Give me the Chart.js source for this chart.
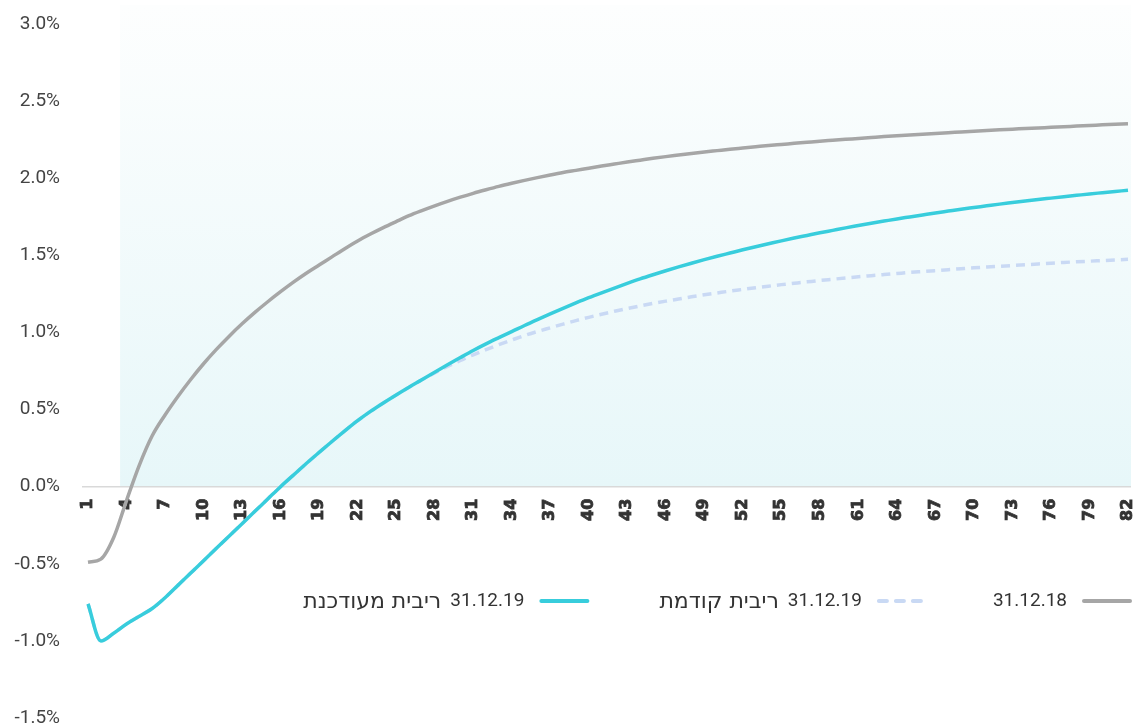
<!DOCTYPE html>
<html lang="he">
<head>
<meta charset="utf-8">
<title>עקום ריבית</title>
<script src="https://cdn.jsdelivr.net/npm/chart.js@4.4.1/dist/chart.umd.min.js"></script>
<style>
  html, body { margin: 0; padding: 0; background: #ffffff; }
  #wrap { width: 1137px; height: 727px; position: relative; }
</style>
</head>
<body>
<div id="wrap"><canvas id="curve"></canvas></div>
<script>
// Period labels along the horizontal axis
const periods = [
  1, 2, 3, 4, 5, 6, 7, 8, 9, 10, 11, 12, 13, 14, 15, 16, 17, 18, 19, 20,
  21, 22, 23, 24, 25, 26, 27, 28, 29, 30, 31, 32, 33, 34, 35, 36, 37, 38, 39, 40,
  41, 42, 43, 44, 45, 46, 47, 48, 49, 50, 51, 52, 53, 54, 55, 56, 57, 58, 59, 60,
  61, 62, 63, 64, 65, 66, 67, 68, 69, 70, 71, 72, 73, 74, 75, 76, 77, 78, 79, 80,
  81, 82
];

// Curve as of 31.12.18 (%)
const curve2018 = [
  -0.49, -0.47, -0.33, -0.09, 0.14, 0.33, 0.465, 0.585, 0.695, 0.797,
  0.890, 0.976, 1.056, 1.130, 1.199, 1.264, 1.326, 1.384, 1.437, 1.490,
  1.543, 1.593, 1.638, 1.680, 1.719, 1.757, 1.790, 1.821, 1.850, 1.877,
  1.902, 1.925, 1.947, 1.967, 1.986, 2.004, 2.021, 2.037, 2.051, 2.065,
  2.079, 2.092, 2.105, 2.117, 2.129, 2.140, 2.150, 2.160, 2.170, 2.179,
  2.188, 2.196, 2.204, 2.212, 2.219, 2.226, 2.233, 2.240, 2.246, 2.252,
  2.258, 2.264, 2.270, 2.275, 2.280, 2.285, 2.290, 2.295, 2.300, 2.305,
  2.310, 2.314, 2.318, 2.322, 2.326, 2.330, 2.334, 2.338, 2.342, 2.346,
  2.350, 2.354
];

// Curve as of 31.12.19, previous rate (%)
const curve2019Prev = [
  -0.76, -1.00, -0.95, -0.89, -0.84, -0.79, -0.72, -0.64, -0.56, -0.48,
  -0.40, -0.32, -0.24, -0.16, -0.08, 0.00, 0.075, 0.150, 0.222, 0.293,
  0.362, 0.428, 0.488, 0.543, 0.595, 0.645, 0.693, 0.738, 0.780, 0.818,
  0.855, 0.889, 0.921, 0.951, 0.980, 1.006, 1.030, 1.054, 1.077, 1.098,
  1.118, 1.137, 1.155, 1.172, 1.188, 1.203, 1.217, 1.231, 1.244, 1.256,
  1.268, 1.279, 1.290, 1.300, 1.310, 1.319, 1.328, 1.337, 1.345, 1.353,
  1.361, 1.368, 1.375, 1.382, 1.389, 1.395, 1.401, 1.407, 1.413, 1.419,
  1.424, 1.429, 1.434, 1.439, 1.444, 1.449, 1.454, 1.458, 1.462, 1.466,
  1.470, 1.474
];

// Curve as of 31.12.19, updated rate (%)
const curve2019New = [
  -0.76, -1.00, -0.95, -0.89, -0.84, -0.79, -0.72, -0.64, -0.56, -0.48,
  -0.40, -0.32, -0.24, -0.16, -0.08, 0.00, 0.075, 0.150, 0.222, 0.293,
  0.362, 0.428, 0.488, 0.543, 0.595, 0.645, 0.693, 0.742, 0.790, 0.837,
  0.883, 0.926, 0.966, 1.005, 1.045, 1.083, 1.120, 1.156, 1.191, 1.225,
  1.257, 1.288, 1.318, 1.347, 1.374, 1.400, 1.425, 1.449, 1.472, 1.494,
  1.515, 1.536, 1.556, 1.575, 1.594, 1.612, 1.629, 1.646, 1.662, 1.678,
  1.693, 1.708, 1.722, 1.736, 1.749, 1.762, 1.775, 1.787, 1.799, 1.810,
  1.821, 1.832, 1.842, 1.852, 1.862, 1.871, 1.880, 1.889, 1.898, 1.906,
  1.914, 1.922
];

const seriesNames = ['31.12.18', '31.12.19 ריבית קודמת', '31.12.19 ריבית מעודכנת'];

const GRAY = '#a6a6a6';
const CYAN = '#38cddc';
const PALE = '#c9d9f4';

// Soft gradient panel behind the curves, above the zero line
const panelPlugin = {
  id: 'panel',
  beforeDatasetsDraw(chart) {
    const { ctx, chartArea, scales } = chart;
    const x = scales.x, y = scales.y;
    const left = (x.getPixelForValue(2) + x.getPixelForValue(3)) / 2;
    const right = chartArea.right + 3;
    const top = 5;
    const bottom = y.getPixelForValue(0);
    const g = ctx.createLinearGradient(0, top, 0, bottom);
    g.addColorStop(0, '#fdfefe');
    g.addColorStop(1, '#e7f7f9');
    ctx.save();
    ctx.fillStyle = g;
    ctx.fillRect(left, top, right - left, bottom - top);
    // zero line
    ctx.strokeStyle = '#d9d9d9';
    ctx.lineWidth = 1.5;
    ctx.beginPath();
    ctx.moveTo(chartArea.left - 6, bottom);
    ctx.lineTo(right, bottom);
    ctx.stroke();
    ctx.restore();
  }
};

// Right-to-left legend placed inside the plot; the date and the Hebrew
// description are set in separate runs so each gets its own face
const legendPlugin = {
  id: 'rtlLegend',
  afterDatasetsDraw(chart) {
    const { ctx } = chart;
    const yMid = 601;
    let xRight = 1132;
    const lineLen = 50, gapLineText = 15, gapItems = 70, gapWords = 9;
    const dateFont = '19px Roboto, sans-serif';
    const hebFont = '22px "DejaVu Sans", sans-serif';
    ctx.save();
    ctx.fillStyle = '#333333';
    ctx.textBaseline = 'middle';
    ctx.textAlign = 'right';
    [0, 1, 2].forEach(i => {
      const ds = chart.data.datasets[i];
      const dashed = ds.borderDash && ds.borderDash.length;
      ctx.save();
      ctx.strokeStyle = ds.borderColor;
      ctx.lineWidth = 4;
      ctx.lineCap = 'round';
      ctx.beginPath();
      if (dashed) {
        ctx.setLineDash([8, 9]);
        ctx.moveTo(xRight - 2, yMid);
        ctx.lineTo(xRight - 44, yMid);
      } else {
        ctx.moveTo(xRight - 2, yMid);
        ctx.lineTo(xRight - lineLen + 2, yMid);
      }
      ctx.stroke();
      ctx.restore();
      const visibleLen = dashed ? 46 : lineLen;
      let tx = xRight - visibleLen - gapLineText;
      const cut = ds.label.indexOf(' ');
      const date = cut < 0 ? ds.label : ds.label.slice(0, cut);
      const rest = cut < 0 ? '' : ds.label.slice(cut + 1);
      ctx.direction = 'ltr';
      ctx.font = dateFont;
      ctx.fillText(date, tx, yMid);
      tx -= ctx.measureText(date).width;
      if (rest) {
        tx -= gapWords;
        ctx.direction = 'rtl';
        ctx.font = hebFont;
        ctx.fillText(rest, tx, yMid + 1);
        tx -= ctx.measureText(rest).width;
      }
      xRight = tx - gapItems;
    });
    ctx.restore();
  }
};

new Chart(document.getElementById('curve'), {
  type: 'line',
  data: {
    labels: periods,
    datasets: [
      {
        label: seriesNames[0],
        data: curve2018,
        borderColor: GRAY,
        borderWidth: 3.5,
        pointRadius: 0,
        cubicInterpolationMode: 'monotone',
        order: 0
      },
      {
        label: seriesNames[1],
        data: curve2019Prev,
        borderColor: PALE,
        borderWidth: 3.5,
        borderDash: [9, 6],
        pointRadius: 0,
        cubicInterpolationMode: 'monotone',
        order: 2
      },
      {
        label: seriesNames[2],
        data: curve2019New,
        borderColor: CYAN,
        borderWidth: 3.5,
        pointRadius: 0,
        cubicInterpolationMode: 'monotone',
        order: 1
      }
    ]
  },
  options: {
    responsive: true,
    maintainAspectRatio: false,
    animation: false,
    layout: { padding: { top: 24, bottom: 9, right: 9, left: 0 } },
    plugins: {
      legend: { display: false },
      tooltip: { enabled: false }
    },
    scales: {
      x: {
        type: 'category',
        position: { y: 0 },
        offset: false,
        grid: { display: false, drawTicks: false },
        border: { display: false },
        afterFit(scale) {
          scale.height = 0;
          scale.paddingLeft = 0;
          scale.paddingRight = 0;
        },
        ticks: {
          autoSkip: false,
          minRotation: 90,
          maxRotation: 90,
          padding: 12,
          color: '#333333',
          textStrokeColor: '#333333',
          textStrokeWidth: 0.8,
          font: { family: '"DejaVu Sans", sans-serif', size: 16, weight: 'bold' },
          callback(value, index) {
            return index % 3 === 0 ? this.getLabelForValue(value) : '';
          }
        }
      },
      y: {
        min: -1.5,
        max: 3.0,
        grid: { display: false, drawTicks: false },
        border: { display: false },
        afterFit(scale) {
          scale.width = 88;
          scale.paddingTop = 0;
          scale.paddingBottom = 0;
        },
        ticks: {
          stepSize: 0.5,
          padding: 28,
          color: '#444444',
          font: { family: 'Roboto', size: 19 },
          callback(v) { return v.toFixed(1) + '%'; }
        }
      }
    }
  },
  plugins: [panelPlugin, legendPlugin]
});
</script>
</body>
</html>
